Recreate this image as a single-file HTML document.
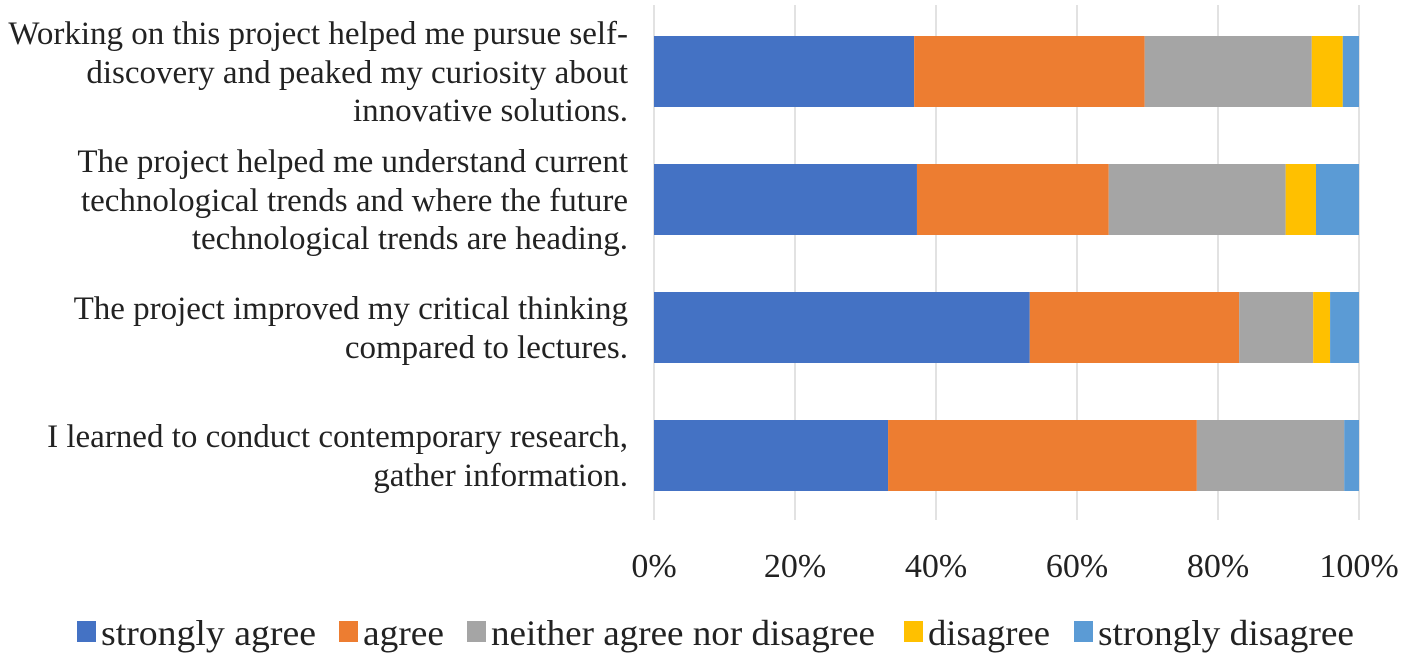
<!DOCTYPE html>
<html><head><meta charset="utf-8"><style>
html,body{margin:0;background:#fff;}
#wrap{position:relative;width:1418px;height:660px;overflow:hidden;}
.t{position:absolute;font-family:"Liberation Serif",serif;color:#222;white-space:nowrap;line-height:1;}
.cat{right:790px;text-align:right;font-size:33px;}
.tick{font-size:34px;transform:translateX(-50%);}
.leg{font-size:36px;transform-origin:0 0;}
.sw{position:absolute;width:19px;height:21px;}
</style></head><body>
<div id="wrap">
<svg id="chart" width="1418" height="660" xmlns="http://www.w3.org/2000/svg" style="position:absolute;left:0;top:0">
<g id="grid"></g>
<g id="bars"></g>
</svg>
</div>
<script>
const categories = [
 ["Working on this project helped me pursue self-","discovery and peaked my curiosity about","innovative solutions."],
 ["The project helped me understand current","technological trends and where the future","technological trends are heading."],
 ["The project improved my critical thinking","compared to lectures."],
 ["I learned to conduct contemporary research,","gather information."]
];
const seriesNames = ["strongly agree","agree","neither agree nor disagree","disagree","strongly disagree"];
const stronglyAgree = [36.9,37.3,53.3,33.2];
const agree = [32.7,27.2,29.7,43.8];
const neither = [23.7,25.1,10.5,20.9];
const disagree = [4.4,4.3,2.4,0];
const stronglyDisagree = [2.3,6.1,4.1,2.1];
const tickLabels = ["0%","20%","40%","60%","80%","100%"];
const tickValues = [0,20,40,60,80,100];
const colors = ["#4472C4","#ED7D31","#A5A5A5","#FFC000","#5B9BD5"];
const series = [stronglyAgree,agree,neither,disagree,stronglyDisagree];
const NS="http://www.w3.org/2000/svg";
const wrap=document.getElementById('wrap');
const x0=654,x1=1359;
function xs(v){return x0+(x1-x0)*v/100;}
const rowTop=20,rowH=128,barH=71;
function yc(i){return rowTop+rowH*i+51.5;}
function mk(t,a,p){const e=document.createElementNS(NS,t);for(const k in a)e.setAttribute(k,a[k]);p.appendChild(e);return e;}
function div(cls,txt,left,top){const d=document.createElement('div');d.className=cls;d.textContent=txt;if(left!==null)d.style.left=left+'px';d.style.top=top+'px';wrap.appendChild(d);return d;}
const grid=document.getElementById('grid');
tickValues.forEach((v,i)=>{
 const l=mk('line',{x1:xs(v),x2:xs(v),y1:5,y2:520,stroke:'#d9d9d9','stroke-width':1.5},grid);
 
 
 const t=div('t tick',tickLabels[i],xs(v),550);
 
 
});
const bars=document.getElementById('bars');
categories.forEach((c,i)=>{
 let cum=0;
 series.forEach((s,j)=>{
  const v=s[i];
  const r=mk('rect',{x:xs(cum),y:yc(i)-barH/2,width:xs(cum+v)-xs(cum),height:barH,fill:colors[j]},bars);
  
  
  cum+=v;
 });
 const n=c.length,lh=38.5;
 c.forEach((line,k)=>{
  const t=div('t cat',line,null,yc(i)+(k-(n-1)/2)*lh-15);
  
  
 });
});
const lx=[77,339,467,904,1074];
const lw=[215,81,384,122,256];
seriesNames.forEach((n,j)=>{
 const s=document.createElement('div');
 s.className='sw';s.style.left=lx[j]+'px';s.style.top='621px';s.style.background=colors[j];
 wrap.appendChild(s);
 
 
 const t=div('t leg',n,lx[j]+24,615);
 
 
 const w=t.getBoundingClientRect().width;
 if(w>0)t.style.transform='scaleX('+(lw[j]/w)+')';
});
</script>
</body></html>
